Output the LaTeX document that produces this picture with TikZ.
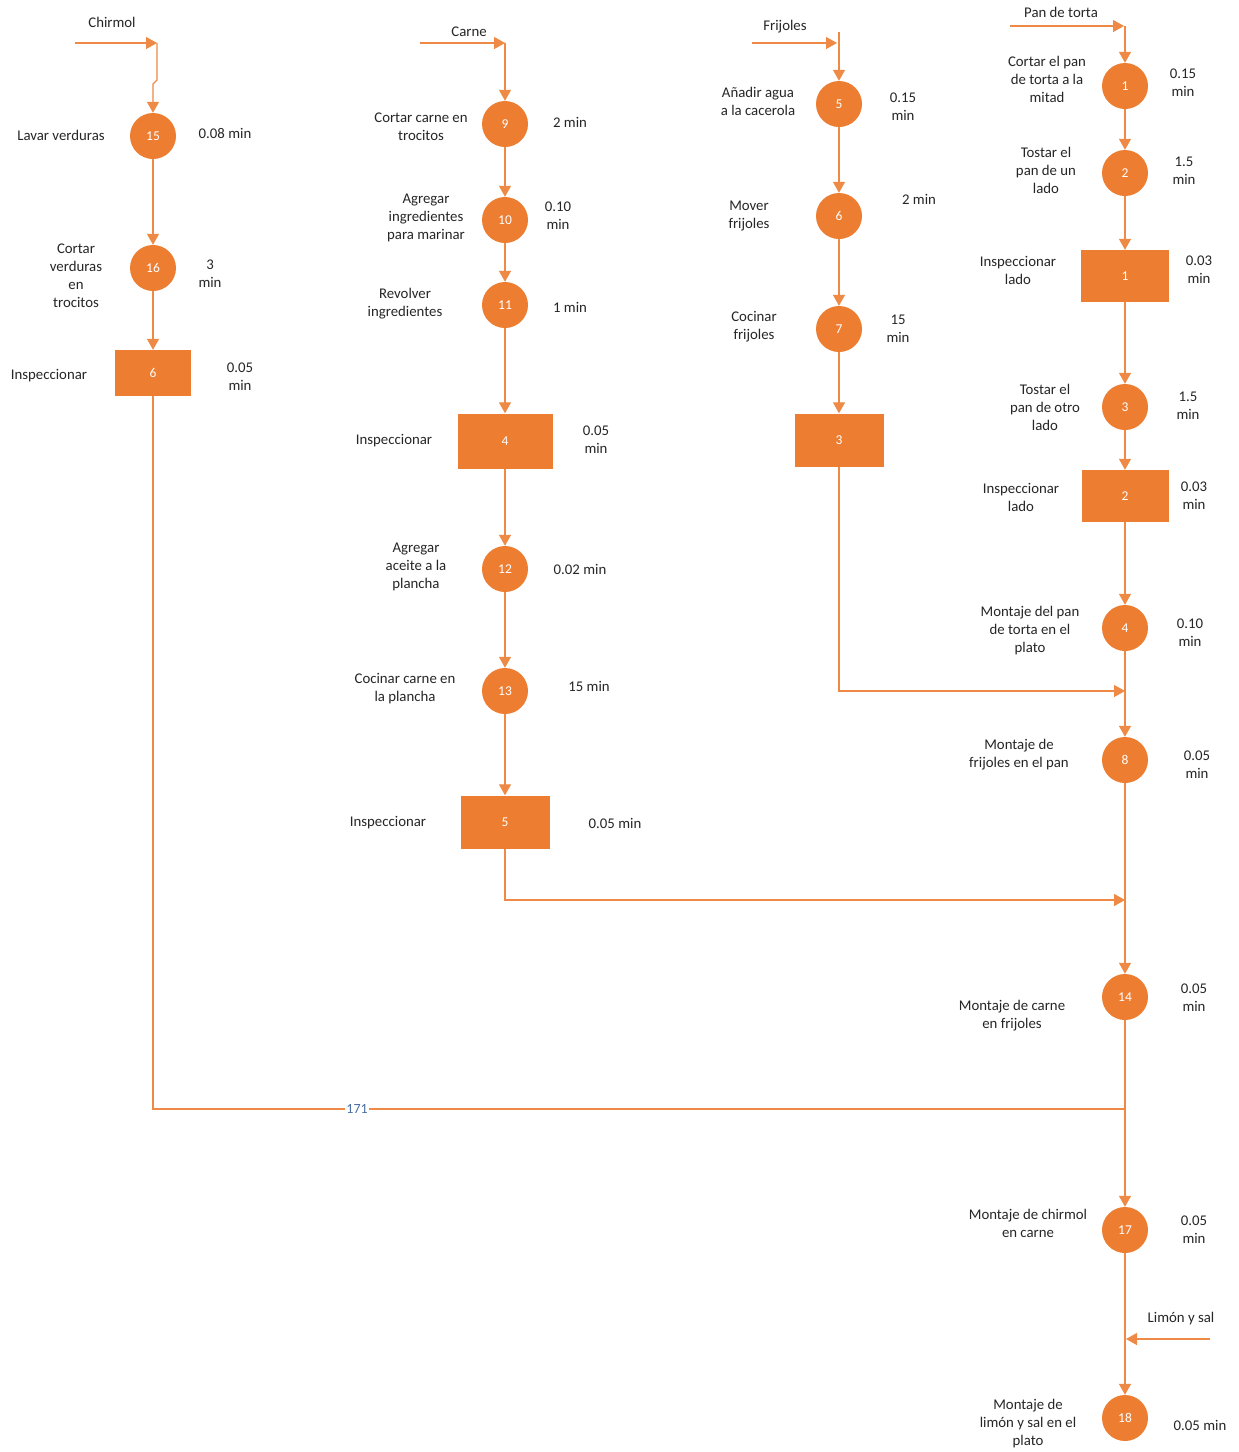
\documentclass[tikz,border=0pt]{standalone}
\usepackage{fontspec}
\setmainfont{Carlito}
\usetikzlibrary{arrows.meta}
\definecolor{orng}{HTML}{ED7D31}
\definecolor{lineorng}{HTML}{EE8A45}
\definecolor{tagblue}{HTML}{4A6FA5}
\begin{document}
\begin{tikzpicture}[x=1pt,y=-1pt,
  op/.style={circle, fill=orng, minimum size=46pt, inner sep=0pt, text=white,
    font=\fontsize{13.5}{14}\selectfont},
  insp/.style={rectangle, fill=orng, inner sep=0pt, text=white,
    font=\fontsize{13.5}{14}\selectfont},
  lbl/.style={align=center, inner sep=0pt, text=black!85,
    font=\fontsize{14.8}{18}\selectfont},
  link/.style={draw=lineorng, line width=1.3pt},
  flow/.style={link, -{Triangle[width=12pt,length=11pt]}},
]
\useasboundingbox (0,0) rectangle (1239,1452);
\fill[white] (0,0) rectangle (1239,1452);

% ---------------- Chirmol ----------------
\node[lbl] (tChirmol) at (112,22) {Chirmol};
\coordinate (chA) at (75,43);
\coordinate (chB) at (157,43);
\coordinate (chC) at (157,80);
\coordinate (chD) at (153,84);
\node[op] (c15) at (153,136) {15};
\node[op] (c16) at (153,268) {16};
\node[insp, minimum width=76pt, minimum height=46pt] (r6) at (153,373) {6};
\node[lbl] (l15) at (61,135) {Lavar verduras};
\node[lbl] (t15) at (225,133) {0.08 min};
\node[lbl] (l16) at (76,276) {Cortar\\verduras\\en\\trocitos};
\node[lbl] (t16) at (210,274) {3\\min};
\node[lbl] (lr6) at (49,376) {Inspeccionar};
\node[lbl] (tr6) at (240,377) {0.05\\min};

% ---------------- Carne ----------------
\node[lbl] (tCarne) at (469,32) {Carne};
\coordinate (caA) at (420,43);
\coordinate (caB) at (505,43);
\node[op] (c9) at (505,124) {9};
\node[op] (c10) at (505,220) {10};
\node[op] (c11) at (505,305) {11};
\node[insp, minimum width=95pt, minimum height=55pt] (r4) at (505,441) {4};
\node[op] (c12) at (505,569) {12};
\node[op] (c13) at (505,691) {13};
\node[insp, minimum width=89pt, minimum height=53pt] (r5) at (505,822) {5};
\node[lbl] (l9) at (421,127) {Cortar carne en\\trocitos};
\node[lbl] (t9) at (570,122) {2 min};
\node[lbl] (l10) at (426,218) {Agregar\\ingredientes\\para marinar};
\node[lbl] (t10) at (558,216) {0.10\\min};
\node[lbl] (l11) at (405,304) {Revolver\\ingredientes};
\node[lbl] (t11) at (570,307) {1 min};
\node[lbl] (lr4) at (394,441) {Inspeccionar};
\node[lbl] (tr4) at (596,440) {0.05\\min};
\node[lbl] (l12) at (416,567) {Agregar\\aceite a la\\plancha};
\node[lbl] (t12) at (580,569) {0.02 min};
\node[lbl] (l13) at (405,689) {Cocinar carne en\\la plancha};
\node[lbl] (t13) at (589,686) {15 min};
\node[lbl] (lr5) at (388,823) {Inspeccionar};
\node[lbl] (tr5) at (615,823) {0.05 min};

% ---------------- Frijoles ----------------
\node[lbl] (tFrijoles) at (785,27) {Frijoles};
\coordinate (frA) at (752,43);
\coordinate (frB) at (837,43);
\coordinate (frC) at (839,32);
\node[op] (c5) at (839,104) {5};
\node[op] (c6) at (839,216) {6};
\node[op] (c7) at (839,329) {7};
\node[insp, minimum width=89pt, minimum height=53pt] (r3) at (839,440) {3};
\node[lbl] (l5) at (758,101) {Añadir agua\\a la cacerola};
\node[lbl] (t5) at (903,107) {0.15\\min};
\node[lbl] (l6) at (749,216) {Mover\\frijoles};
\node[lbl] (t6) at (919,199) {2 min};
\node[lbl] (l7) at (754,327) {Cocinar\\frijoles};
\node[lbl] (t7) at (898,329) {15\\min};

% ---------------- Pan de torta ----------------
\node[lbl] (tPan) at (1061,12) {Pan de torta};
\coordinate (paA) at (1010,26);
\coordinate (paB) at (1124,26);
\coordinate (paC) at (1125,26);
\node[op] (c1) at (1125,86) {1};
\node[op] (c2) at (1125,173) {2};
\node[insp, minimum width=88pt, minimum height=52pt] (r1) at (1125,276) {1};
\node[op] (c3) at (1125,407) {3};
\node[insp, minimum width=87pt, minimum height=52pt] (r2) at (1125,496) {2};
\node[op] (c4) at (1125,628) {4};
\node[op] (c8) at (1125,760) {8};
\node[op] (c14) at (1125,997) {14};
\node[op] (c17) at (1125,1230) {17};
\node[op] (c18) at (1125,1418) {18};
\node[lbl] (l1) at (1047,79) {Cortar el pan\\de torta a la\\mitad};
\node[lbl] (t1) at (1183,83) {0.15\\min};
\node[lbl] (l2) at (1046,170) {Tostar el\\pan de un\\lado};
\node[lbl] (t2) at (1184,171) {1.5\\min};
\node[lbl] (lr1) at (1018,270) {Inspeccionar\\lado};
\node[lbl] (tr1) at (1199,270) {0.03\\min};
\node[lbl] (l3) at (1045,407) {Tostar el\\pan de otro\\lado};
\node[lbl] (t3) at (1188,406) {1.5\\min};
\node[lbl] (lr2) at (1021,497) {Inspeccionar\\lado};
\node[lbl] (tr2) at (1194,496) {0.03\\min};
\node[lbl] (l4) at (1030,631) {Montaje del pan\\de torta en el\\plato};
\node[lbl] (t4) at (1190,633) {0.10\\min};
\node[lbl] (l8) at (1019,755) {Montaje de\\frijoles en el pan};
\node[lbl] (t8) at (1197,765) {0.05\\min};
\node[lbl] (l14) at (1012,1016) {Montaje de carne\\en frijoles};
\node[lbl] (t14) at (1194,998) {0.05\\min};
\node[lbl] (l17) at (1028,1223) {Montaje de chirmol\\en carne};
\node[lbl] (t17) at (1194,1230) {0.05\\min};
\node[lbl] (tLimon) at (1181,1319) {Limón y sal};
\coordinate (liA) at (1210,1339);
\coordinate (liB) at (1126,1339);
\node[lbl] (l18) at (1028,1424) {Montaje de\\limón y sal en el\\plato};
\node[lbl] (t18) at (1200,1425) {0.05 min};

% junction points on the main line
\coordinate (jFr) at (1125,691);
\coordinate (jCa) at (1125,900);
\coordinate (jCh) at (1125,1109);

% ---------------- connectors ----------------
% Chirmol
\draw[flow] (chA) -- (chB);
\draw[flow] (chB) -- (chC) -- (chD) -- (c15);
\draw[flow] (c15) -- (c16);
\draw[flow] (c16) -- (r6);
\draw[link] (r6.south) |- (jCh)
  node[pos=0.605, fill=white, inner sep=1pt, text=tagblue,
       font=\fontsize{14}{15}\selectfont] (n171) {171};

% Carne
\draw[flow] (caA) -- (caB);
\draw[flow] (caB) -- (c9);
\draw[flow] (c9) -- (c10);
\draw[flow] (c10) -- (c11);
\draw[flow] (c11) -- (r4);
\draw[flow] (r4) -- (c12);
\draw[flow] (c12) -- (c13);
\draw[flow] (c13) -- (r5);
\draw[flow] (r5.south) |- (jCa);

% Frijoles
\draw[flow] (frA) -- (frB);
\draw[flow] (frC) -- (c5);
\draw[flow] (c5) -- (c6);
\draw[flow] (c6) -- (c7);
\draw[flow] (c7) -- (r3);
\draw[flow] (r3.south) |- (jFr);

% Pan de torta and assembly line
\draw[flow] (paA) -- (paB);
\draw[flow] (paC) -- (c1);
\draw[flow] (c1) -- (c2);
\draw[flow] (c2) -- (r1);
\draw[flow] (r1) -- (c3);
\draw[flow] (c3) -- (r2);
\draw[flow] (r2) -- (c4);
\draw[flow] (c4) -- (c8);
\draw[flow] (c8) -- (c14);
\draw[flow] (c14) -- (c17);
\draw[flow] (c17) -- (c18);
\draw[flow] (liA) -- (liB);
\end{tikzpicture}
\end{document}
